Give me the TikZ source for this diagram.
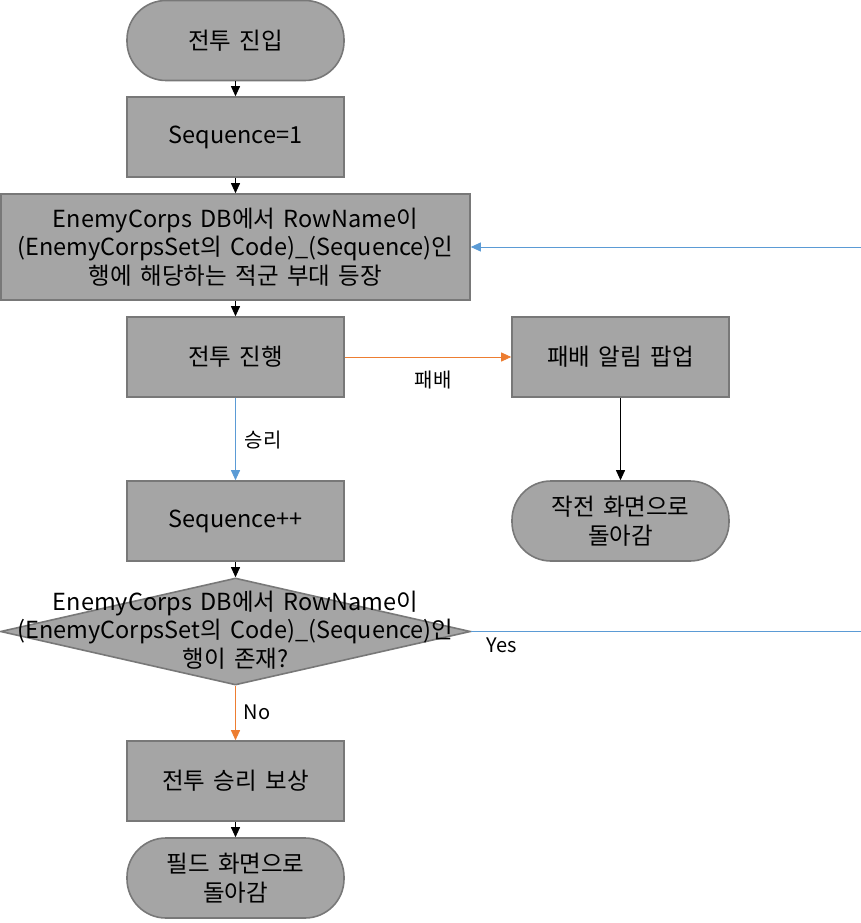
\documentclass[tikz,border=0pt]{standalone}
\usepackage{fontspec}
\setmainfont{Noto Sans CJK KR}
\usetikzlibrary{arrows.meta,shapes.geometric}
\definecolor{boxfill}{HTML}{A5A5A5}
\definecolor{boxline}{HTML}{787878}
\definecolor{blueln}{HTML}{5B9BD5}
\definecolor{orangeln}{HTML}{ED7D31}
\newcommand{\mainfnt}{\fontsize{23.5}{28.5}\selectfont\spaceskip=0.36em plus 0.05em\relax}
\tikzset{
  x=1pt, y=-1pt,
  procbox/.style={draw=boxline, line width=1.6pt, fill=boxfill, minimum width=217pt, minimum height=80pt, inner sep=0pt, align=center, font=\mainfnt},
  termbox/.style={procbox, rounded corners=39pt},
  lbl/.style={font=\fontsize{20}{24}\selectfont, inner sep=0pt},
  blk/.style={draw=black, line width=0.9pt, -{Triangle[length=10pt,width=9pt]}},
  blu/.style={draw=blueln, line width=0.9pt, -{Triangle[length=10pt,width=9pt]}},
  org/.style={draw=orangeln, line width=0.9pt, -{Triangle[length=10pt,width=9pt]}},
}
\begin{document}
\begin{tikzpicture}
\clip (0,0) rectangle (861,923);
\fill[white] (0,0) rectangle (861,923);
\node[termbox] (start) at (235.5,40.5) {전투 진입};
\node[procbox] (seq1) at (235.5,137) {Sequence=1};
\node[procbox, minimum width=469pt, minimum height=106pt] (spawn) at (235.5,247) {EnemyCorps DB에서 RowName이\\(EnemyCorpsSet의 Code)\_(Sequence)인\\행에 해당하는 적군 부대 등장};
\node[procbox] (fight) at (235.5,357) {전투 진행};
\node[procbox] (lose) at (620.5,357) {패배 알림 팝업};
\node[termbox] (back) at (620.5,521) {작전 화면으로\\돌아감};
\node[procbox] (seqpp) at (235.5,521) {Sequence++};
\node[draw=boxline, line width=1.6pt, fill=boxfill, diamond, minimum width=470pt, minimum height=107pt, inner sep=0pt] (dia) at (235.5,631.5) {};
\node[align=center, inner sep=0pt, font=\mainfnt] (diatext) at (235.5,630) {EnemyCorps DB에서 RowName이\\(EnemyCorpsSet의 Code)\_(Sequence)인\\행이 존재?};
\node[procbox] (reward) at (235.5,781) {전투 승리 보상};
\node[termbox] (field) at (235.5,878) {필드 화면으로\\돌아감};
\coordinate (lr) at (866,631.5);
\coordinate (ur) at (866,247);
\draw[blk] (start) -- (seq1);
\draw[blk] (seq1) -- (spawn);
\draw[blk] (spawn) -- (fight);
\draw[org] (fight) -- (lose);
\draw[blu] (fight) -- (seqpp);
\draw[blk] (lose) -- (back);
\draw[blk] (seqpp) -- (dia);
\draw[org] (dia) -- (reward);
\draw[blk] (reward) -- (field);
\draw[blu] (dia.east) -- (lr) -- (ur) -- (spawn.east);
\node[lbl] (l1) at (433,380) {패배};
\node[lbl] (l2) at (263,440) {승리};
\node[lbl] (l3) at (257,712) {No};
\node[lbl] (l4) at (502,645) {Yes};
\end{tikzpicture}
\end{document}
